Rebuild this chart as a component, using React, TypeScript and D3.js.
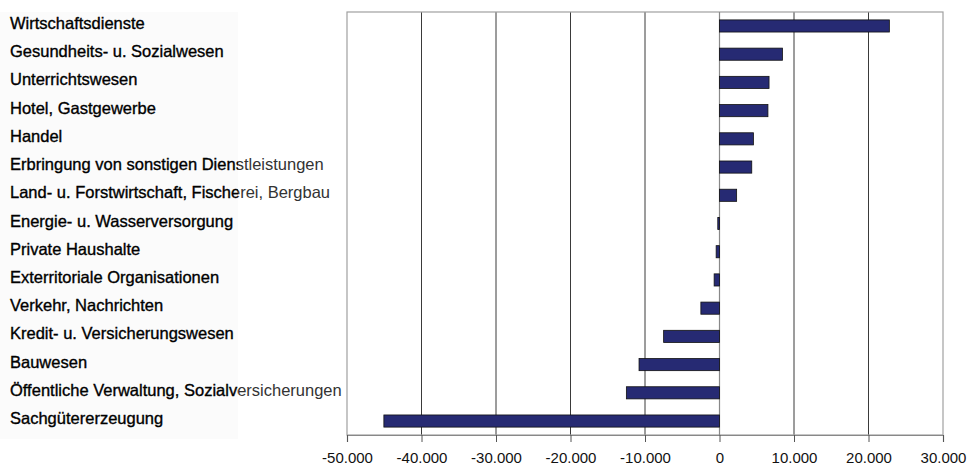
import React, { useRef, useEffect } from 'react';
import * as d3 from 'd3';

// categories, top to bottom
const categories = [
  'Wirtschaftsdienste',
  'Gesundheits- u. Sozialwesen',
  'Unterrichtswesen',
  'Hotel, Gastgewerbe',
  'Handel',
  'Erbringung von sonstigen Dienstleistungen',
  'Land- u. Forstwirtschaft, Fischerei, Bergbau',
  'Energie- u. Wasserversorgung',
  'Private Haushalte',
  'Exterritoriale Organisationen',
  'Verkehr, Nachrichten',
  'Kredit- u. Versicherungswesen',
  'Bauwesen',
  'Öffentliche Verwaltung, Sozialversicherungen',
  'Sachgütererzeugung',
];

const values = [
  22800, 8450, 6650, 6500, 4550, 4330, 2300, -230, -450, -720, -2500, -7500, -10800, -12500, -45050,
];

const ticks = [-50000, -40000, -30000, -20000, -10000, 0, 10000, 20000, 30000];

const App = () => {
  const svgRef = useRef<SVGSVGElement>(null);
  const width = 968;
  const height = 466;

  useEffect(() => {
    const svg = d3.select(svgRef.current);
    svg.selectAll('*').remove();

    const margin = { top: 12, right: 25, bottom: 31, left: 347 };
    const data = categories.map((c, i) => ({ name: c, value: values[i] }));

    const x = d3.scaleLinear()
      .domain([-50000, 30000])
      .range([margin.left, width - margin.right]);

    const y = d3.scaleBand()
      .domain(categories)
      .range([margin.top, height - margin.bottom])
      .paddingInner(0.57)
      .paddingOuter(0.28);

    const bottom = height - margin.bottom;

    // faint label background
    svg.append('rect')
      .attr('x', 0).attr('y', margin.top)
      .attr('width', 238).attr('height', bottom - margin.top + 4)
      .attr('fill', '#fbfbfb');

    // gridlines
    svg.append('g')
      .selectAll('line')
      .data(ticks.filter(t => t !== -50000 && t !== 30000 && t !== 0))
      .join('line')
      .attr('x1', d => x(d)).attr('x2', d => x(d))
      .attr('y1', margin.top).attr('y2', bottom)
      .attr('stroke', '#3a3a3a')
      .attr('stroke-width', 1);

    // plot frame
    svg.append('rect')
      .attr('x', x(-50000)).attr('y', margin.top)
      .attr('width', x(30000) - x(-50000)).attr('height', bottom - margin.top)
      .attr('fill', 'none')
      .attr('stroke', '#a0a0a0')
      .attr('stroke-width', 1.2);

    // zero line
    svg.append('line')
      .attr('x1', x(0)).attr('x2', x(0))
      .attr('y1', margin.top).attr('y2', bottom)
      .attr('stroke', '#888')
      .attr('stroke-width', 1.2);

    // bars
    svg.append('g')
      .selectAll('rect')
      .data(data)
      .join('rect')
      .attr('x', d => x(Math.min(0, d.value)))
      .attr('y', d => y(d.name)!)
      .attr('width', d => Math.abs(x(d.value) - x(0)))
      .attr('height', y.bandwidth())
      .attr('fill', '#262a73')
      .attr('stroke', '#111')
      .attr('stroke-width', 0.8);

    // x axis, German thousands separator and a plain hyphen for minus
    const fmt = (v: number) => (v < 0 ? '-' : '') + d3.format(',')(Math.abs(v)).replace(/,/g, '.');
    const xAxis = d3.axisBottom(x)
      .tickValues(ticks)
      .tickSize(7)
      .tickFormat(d => fmt(d as number));
    const ax = svg.append('g')
      .attr('transform', `translate(0,${bottom})`)
      .call(xAxis);
    ax.select('.domain').attr('stroke', '#888').attr('stroke-width', 1.2);
    ax.selectAll('.tick line').attr('stroke', '#555');
    ax.selectAll('.tick text')
      .attr('y', 17)
      .attr('dy', '0.71em')
      .attr('fill', '#111')
      .style('font-family', '"Liberation Sans", Arial, sans-serif')
      .style('font-size', '15px');

    // category labels: darker inside the label panel, lighter over the plot
    const defs = svg.append('defs');
    defs.append('clipPath').attr('id', 'clipIn')
      .append('rect').attr('x', 0).attr('y', 0).attr('width', 238).attr('height', height);
    defs.append('clipPath').attr('id', 'clipOut')
      .append('rect').attr('x', 238).attr('y', 0).attr('width', width).attr('height', height);

    const drawLabels = (clip: string, fill: string, strokeW: number) => {
      svg.append('g')
        .attr('clip-path', `url(#${clip})`)
        .selectAll('text')
        .data(data)
        .join('text')
        .attr('x', 10)
        .attr('y', d => y(d.name)! + y.bandwidth() / 2 + 3)
        .attr('fill', fill)
        .attr('stroke', fill)
        .attr('stroke-width', strokeW)
        .style('font-family', '"Liberation Sans", Arial, sans-serif')
        .style('font-size', '16.5px')
        .text(d => d.name);
    };
    drawLabels('clipIn', '#000', 0.35);
    drawLabels('clipOut', '#333', 0);
  }, []);

  return (
    <svg
      ref={svgRef}
      width={width}
      height={height}
      viewBox={`0 0 ${width} ${height}`}
      style={{ position: 'absolute', left: 0, top: 0, background: '#fff' }}
    />
  );
};

export default App;
